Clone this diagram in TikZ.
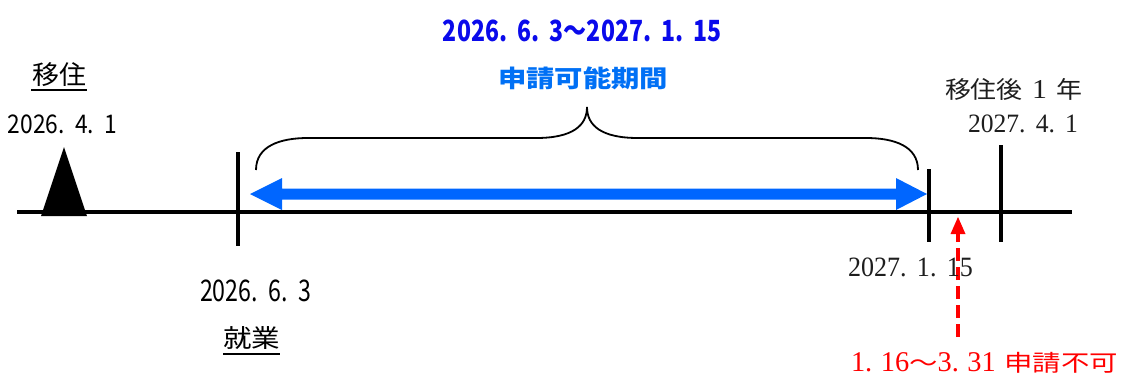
\documentclass[tikz,border=0pt]{standalone}
\usepackage{fontspec}
\usepackage{graphicx}
\newfontfamily\jp{Noto Sans CJK JP}
\newfontfamily\sr{Liberation Serif}
\newcommand\fitbox[3]{\resizebox*{#1pt}{#2pt}{#3}}
\definecolor{arrowblue}{RGB}{0,102,255}
\definecolor{darkblue}{RGB}{10,10,235}
\definecolor{midblue}{RGB}{0,112,245}
\definecolor{serifgray}{RGB}{30,30,30}
\tikzset{
  txt/.style={inner sep=0pt, outer sep=0pt, anchor=center},
  axis/.style={line width=4pt},
  tick/.style={line width=4.5pt},
  brace/.style={line width=1.8pt},
  ul/.style={line width=2pt},
  redarrow/.style={red, line width=3.2pt, dash pattern=on 13pt off 6pt},
}
\begin{document}
\begin{tikzpicture}[x=1pt,y=-1pt]
\useasboundingbox (0,0) rectangle (1121,376);
% coordinates
\coordinate (L) at (17,212);
\coordinate (R) at (1072,212);
\coordinate (t1top) at (238,152); \coordinate (t1bot) at (238,246);
\coordinate (t2top) at (929,169); \coordinate (t2bot) at (929,242);
\coordinate (t3top) at (1001,145); \coordinate (t3bot) at (1001,242);
% timeline
\draw[axis] (L) -- (R);
\draw[tick] (t1top) -- (t1bot);
\draw[tick] (t2top) -- (t2bot);
\draw[tick] (t3top) -- (t3bot);
% triangle
\fill (64,147) -- (87,216) -- (41,216) -- cycle;
% blue double arrow
\fill[arrowblue] (250,194) -- (282,178) -- (282,188.5) -- (896,188.5) -- (896,178)
  -- (927,194) -- (896,210) -- (896,199.5) -- (282,199.5) -- (282,210) -- cycle;
% brace
\draw[brace] (256,170) .. controls (256,146) and (280,138) .. (308,138)
  -- (536,138) .. controls (572,138) and (587,126) .. (587,107)
  .. controls (587,126) and (602,138) .. (638,138)
  -- (866,138) .. controls (894,138) and (918,146) .. (918,170);
% red dashed arrow
\coordinate (rb) at (958,337);
\coordinate (rt) at (958,232);
\draw[redarrow] (rb) -- (rt);
\fill[red] (958,217) -- (965.5,234) -- (950.5,234) -- cycle;
% texts
\node[txt] (ijuu) at (59.5,75) {\fitbox{54}{24}{\jp 移住}};
\draw[ul] (31,90) -- (87,90);
\node[txt] (d1) at (62.5,124.5) {\fitbox{109}{19}{\jp 2026.\hspace{.45em}4.\hspace{.45em}1}};
\node[txt,text=darkblue] (top) at (582.5,31) {\fitbox{279}{22}{\jp\bfseries 2026.\hspace{.45em}6.\hspace{.45em}3～2027.\hspace{.45em}1.\hspace{.45em}15}};
\node[txt,text=midblue] (period) at (583,78.5) {\fitbox{170}{23}{\jp\bfseries 申請可能期間}};
\node[txt] (d2) at (255.5,291) {\fitbox{111}{22}{\jp 2026.\hspace{.45em}6.\hspace{.45em}3}};
\node[txt] (shugyo) at (251.5,338.5) {\fitbox{57}{23}{\jp 就業}};
\draw[ul] (223,353.5) -- (280,353.5);
\node[txt,text=serifgray] (ato) at (1013.5,89) {\fitbox{137}{22}{{\jp 移住後}\hspace{.35em}{\sr\scalebox{1.15}{1}}\hspace{.35em}{\jp 年}}};
\node[txt,text=serifgray] (d3) at (1023,124) {\fitbox{110}{18}{\sr 2027.\hspace{.4em}4.\hspace{.4em}1}};
\node[txt,text=serifgray] (d4) at (910.5,267.5) {\fitbox{125}{19}{\sr 2027.\hspace{.4em}1.\hspace{.4em}15}};
\node[txt,text=red] (ng) at (984.5,363) {\fitbox{267}{21}{\scalebox{1}[1.25]{\sr 1.\hspace{.3em}16}{\jp ～}\scalebox{1}[1.25]{\sr 3.\hspace{.3em}31}\hspace{.3em}{\jp 申請不可}}};
\end{tikzpicture}
\end{document}
